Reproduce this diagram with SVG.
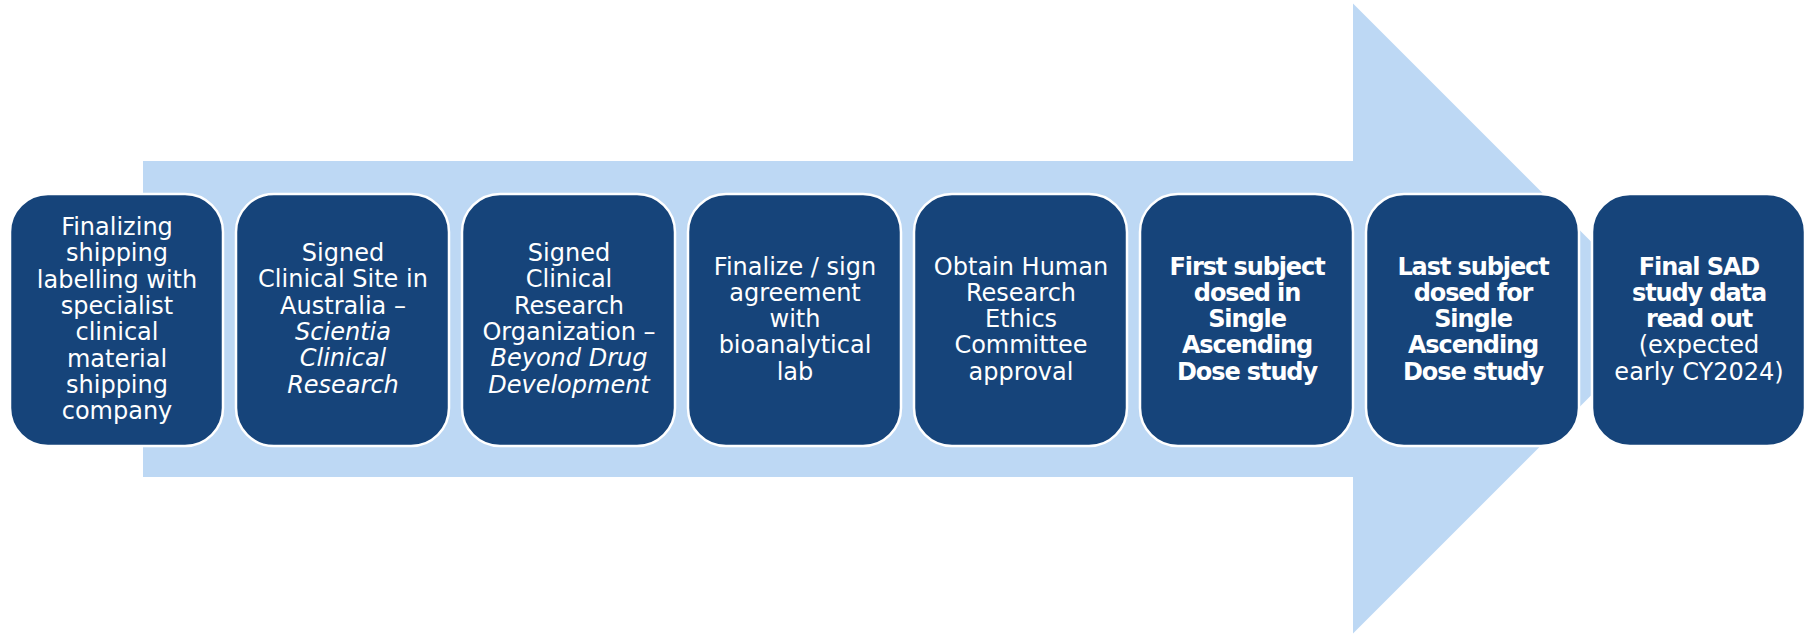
<svg xmlns="http://www.w3.org/2000/svg" width="1812" height="636" viewBox="0 0 1812 636">
<style>
.bg{fill:#BDD8F4}
.box{fill:#16447A;stroke:#FFFFFF;stroke-width:2.5}
text{font-family:"DejaVu Sans","Liberation Sans",sans-serif;font-size:24px;fill:#FFFFFF;text-anchor:middle}
.i{font-style:italic}
.b{font-weight:bold;letter-spacing:-1.1px}
</style>
<rect width="1812" height="636" fill="#FFFFFF"/>
<g id="arrow">
<rect class="bg" x="143" y="161" width="1211" height="316"/>
<polygon class="bg" points="1353,3.5 1668,318.5 1353,633.5"/>
</g>
<g id="connectors"></g>
<g id="n1">
<rect class="box" x="10" y="194" width="213" height="252" rx="38"/>
<text x="117" y="235">Finalizing</text>
<text x="117" y="261.3">shipping</text>
<text x="117" y="287.6">labelling with</text>
<text x="117" y="313.9">specialist</text>
<text x="117" y="340.2">clinical</text>
<text x="117" y="366.5">material</text>
<text x="117" y="392.8">shipping</text>
<text x="117" y="419.1">company</text>
</g>
<g id="n2">
<rect class="box" x="236" y="194" width="213" height="252" rx="38"/>
<text x="343" y="261">Signed</text>
<text x="343" y="287.3">Clinical Site in</text>
<text x="343" y="313.6">Australia –</text>
<text x="343" y="339.9" class="i">Scientia</text>
<text x="343" y="366.2" class="i">Clinical</text>
<text x="343" y="392.5" class="i">Research</text>
</g>
<g id="n3">
<rect class="box" x="462" y="194" width="213" height="252" rx="38"/>
<text x="569" y="261">Signed</text>
<text x="569" y="287.3">Clinical</text>
<text x="569" y="313.6">Research</text>
<text x="569" y="339.9">Organization –</text>
<text x="569" y="366.2" class="i">Beyond Drug</text>
<text x="569" y="392.5" class="i">Development</text>
</g>
<g id="n4">
<rect class="box" x="688" y="194" width="213" height="252" rx="38"/>
<text x="795" y="274.5">Finalize / sign</text>
<text x="795" y="300.8">agreement</text>
<text x="795" y="327.1">with</text>
<text x="795" y="353.4">bioanalytical</text>
<text x="795" y="379.7">lab</text>
</g>
<g id="n5">
<rect class="box" x="914" y="194" width="213" height="252" rx="38"/>
<text x="1021" y="274.5">Obtain Human</text>
<text x="1021" y="300.8">Research</text>
<text x="1021" y="327.1">Ethics</text>
<text x="1021" y="353.4">Committee</text>
<text x="1021" y="379.7">approval</text>
</g>
<g id="n6">
<rect class="box" x="1140" y="194" width="213" height="252" rx="38"/>
<text x="1247" y="274.5" class="b">First subject</text>
<text x="1247" y="300.8" class="b">dosed in</text>
<text x="1247" y="327.1" class="b">Single</text>
<text x="1247" y="353.4" class="b">Ascending</text>
<text x="1247" y="379.7" class="b">Dose study</text>
</g>
<g id="n7">
<rect class="box" x="1366" y="194" width="213" height="252" rx="38"/>
<text x="1473" y="274.5" class="b">Last subject</text>
<text x="1473" y="300.8" class="b">dosed for</text>
<text x="1473" y="327.1" class="b">Single</text>
<text x="1473" y="353.4" class="b">Ascending</text>
<text x="1473" y="379.7" class="b">Dose study</text>
</g>
<g id="n8">
<rect class="box" x="1592" y="194" width="213" height="252" rx="38"/>
<text x="1699" y="274.5" class="b">Final SAD</text>
<text x="1699" y="300.8" class="b">study data</text>
<text x="1699" y="327.1" class="b">read out</text>
<text x="1699" y="353.4">(expected</text>
<text x="1699" y="379.7">early CY2024)</text>
</g>
</svg>
